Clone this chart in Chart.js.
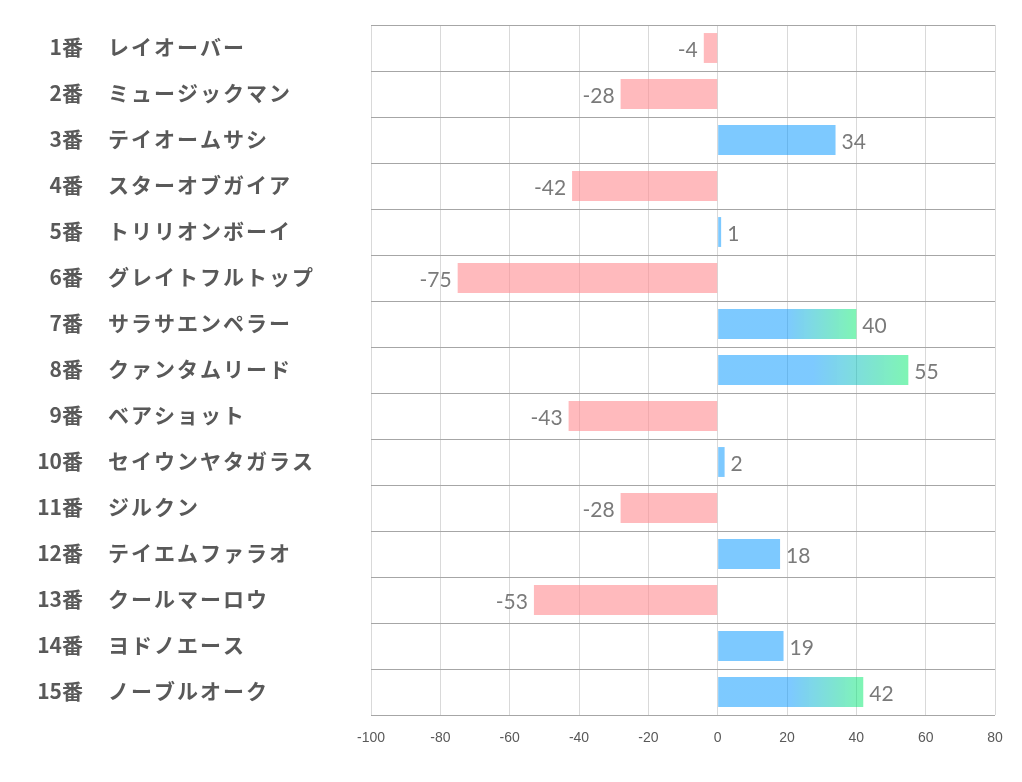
<!DOCTYPE html>
<html>
<head>
<meta charset="utf-8">
<script src="https://cdn.jsdelivr.net/npm/chart.js@4/dist/chart.umd.min.js"></script>
<style>
  html, body { margin: 0; padding: 0; background: #fff; }
  #wrap { width: 1022px; height: 782px; }
</style>
</head>
<body>
<div id="wrap"><canvas id="c" width="1022" height="782"></canvas></div>
<script>
const numbers = ["1番","2番","3番","4番","5番","6番","7番","8番","9番","10番","11番","12番","13番","14番","15番"];
const names = ["レイオーバー","ミュージックマン","テイオームサシ","スターオブガイア","トリリオンボーイ","グレイトフルトップ","サラサエンペラー","クァンタムリード","ベアショット","セイウンヤタガラス","ジルクン","テイエムファラオ","クールマーロウ","ヨドノエース","ノーブルオーク"];
const values = [-4, -28, 34, -42, 1, -75, 40, 55, -43, 2, -28, 18, -53, 19, 42];
const xMin = -100, xMax = 80, xStep = 20;

const PINK = 'rgba(255,140,145,0.6)';
const BLUE = 'rgba(0,150,255,0.51)';
const GREEN = 'rgba(0,235,105,0.5)';

function barColor(ctx) {
  const v = ctx.raw;
  if (v < 0) return PINK;
  if (v < 40) return BLUE;
  const chart = ctx.chart;
  const xs = chart.scales.x;
  if (!xs || !chart.chartArea) return BLUE;
  const x0 = xs.getPixelForValue(0), x1 = xs.getPixelForValue(v);
  const g = chart.ctx.createLinearGradient(x0, 0, x1, 0);
  g.addColorStop(0, BLUE);
  g.addColorStop(0.5, BLUE);
  g.addColorStop(1, GREEN);
  return g;
}

const labelPlugin = {
  id: 'labels',
  afterDatasetsDraw(chart) {
    const c = chart.ctx;
    const ys = chart.scales.y, xs = chart.scales.x;
    c.save();
    c.fillStyle = '#595959';
    c.textBaseline = 'middle';
    c.font = 'bold 21px "Noto Sans CJK JP"';
    for (let i = 0; i < names.length; i++) {
      const y = ys.getPixelForValue(i) - 1;
      c.letterSpacing = '0px';
      c.textAlign = 'right';
      c.fillText(numbers[i], 83, y);
      c.textAlign = 'left';
      c.letterSpacing = '2px';
      c.fillText(names[i], 108, y);
    }
    c.letterSpacing = '0px';
    c.fillStyle = '#7a7a7a';
    c.font = '21px Lato';
    for (let i = 0; i < values.length; i++) {
      const v = values[i];
      const y = ys.getPixelForValue(i) + 2;
      const x = xs.getPixelForValue(v);
      if (v < 0) { c.textAlign = 'right'; c.fillText(String(v), x - 6, y); }
      else { c.textAlign = 'left'; c.fillText(String(v), x + 6, y); }
    }
    c.restore();
  }
};

new Chart(document.getElementById('c'), {
  type: 'bar',
  data: {
    labels: names,
    datasets: [{
      data: values,
      backgroundColor: barColor,
      borderWidth: 0,
      barPercentage: 0.65,
      categoryPercentage: 1.0
    }]
  },
  options: {
    indexAxis: 'y',
    responsive: false,
    animation: false,
    devicePixelRatio: 1,
    layout: { padding: { top: 25, right: 27, bottom: 0, left: 0 } },
    plugins: { legend: { display: false }, tooltip: { enabled: false } },
    scales: {
      x: {
        min: xMin, max: xMax,
        ticks: { stepSize: xStep, color: '#595959', padding: 15,
                 font: { family: '"Liberation Sans Narrow", "Liberation Sans"', size: 14 } },
        grid: { color: '#d9d9d9', lineWidth: 1, drawTicks: false },
        border: { display: false },
        afterFit(s) { s.height = 67; }
      },
      y: {
        ticks: { display: false },
        grid: { offset: true, color: '#a6a6a6', lineWidth: 1, drawTicks: false },
        border: { display: false },
        afterFit(s) { s.width = 371; }
      }
    }
  },
  plugins: [labelPlugin]
});
</script>
</body>
</html>
